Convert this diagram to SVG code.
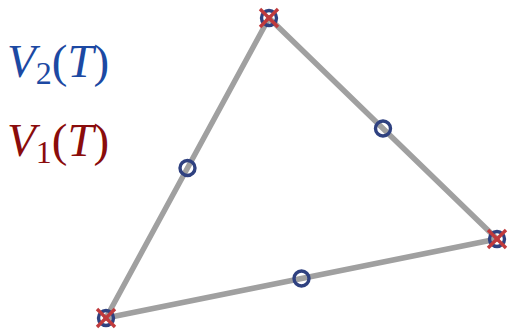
<svg xmlns="http://www.w3.org/2000/svg" width="508" height="329" viewBox="0 0 508 329">
<style>
.edge{stroke:#a0a0a0;stroke-width:5.5;stroke-linecap:round;fill:none}
.v2{fill:none;stroke:#2f4180;stroke-width:3.4}
.v1{stroke:#c03a3c;stroke-width:3.4;stroke-linecap:butt}
.lbl{font-family:"Liberation Serif","DejaVu Serif",serif;font-size:47px}
.it{font-style:italic}
</style>
<defs>
<g id="cross"><line class="v1" x1="-9" y1="-9" x2="9" y2="9"/><line class="v1" x1="-9" y1="9" x2="9" y2="-9"/></g>
</defs>
<g id="connectors">
<line class="edge" x1="269" y1="18" x2="106" y2="318"/>
<line class="edge" x1="269" y1="18" x2="497" y2="239"/>
<line class="edge" x1="106" y1="318" x2="497" y2="239"/>
</g>
<g id="node-top"><circle class="v2" cx="269" cy="18" r="7.5"/><use href="#cross" x="269" y="18"/></g>
<g id="node-left"><circle class="v2" cx="106" cy="318" r="7.5"/><use href="#cross" x="106" y="318"/></g>
<g id="node-right"><circle class="v2" cx="497" cy="239" r="7.5"/><use href="#cross" x="497" y="239"/></g>
<g id="node-mid-left"><circle class="v2" cx="187.5" cy="168" r="7.5"/></g>
<g id="node-mid-right"><circle class="v2" cx="383" cy="128.5" r="7.5"/></g>
<g id="node-mid-bottom"><circle class="v2" cx="301.5" cy="278.5" r="7.5"/></g>
<g id="legend">
<text class="lbl" x="7" y="77" fill="#1c49a3"><tspan class="it">V</tspan><tspan font-size="32" dy="7">2</tspan><tspan dy="-7">(</tspan><tspan class="it">T</tspan><tspan>)</tspan></text>
<text class="lbl" x="7" y="156" fill="#8a0c0c"><tspan class="it">V</tspan><tspan font-size="32" dy="7">1</tspan><tspan dy="-7">(</tspan><tspan class="it">T</tspan><tspan>)</tspan></text>
</g>
</svg>
